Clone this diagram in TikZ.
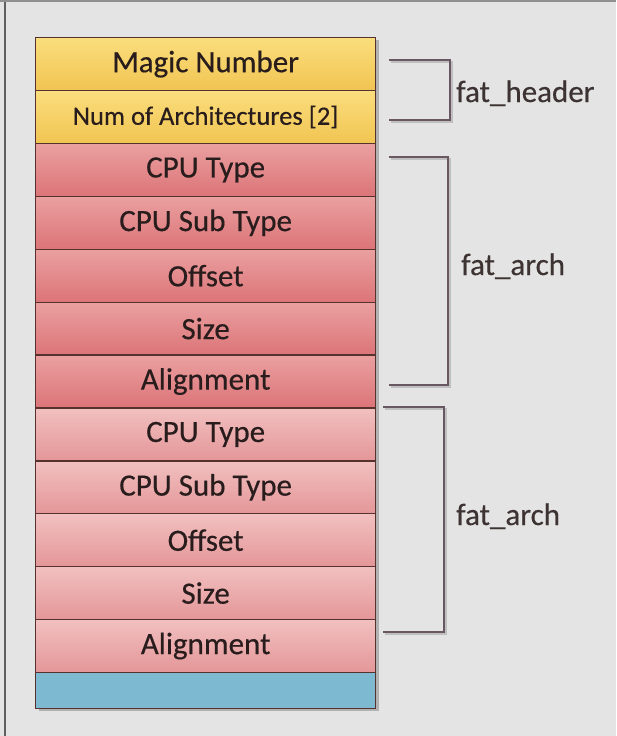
\documentclass[tikz,border=0pt]{standalone}
\usepackage{fontspec}
\setmainfont[FakeBold=0.4]{Carlito}
\definecolor{bgc}{RGB}{228,228,228}
\definecolor{framec}{RGB}{95,95,95}
\definecolor{yelT}{RGB}{250,222,125}
\definecolor{yelB}{RGB}{241,196,82}
\definecolor{redaT}{RGB}{234,160,160}
\definecolor{redaB}{RGB}{220,116,120}
\definecolor{redbT}{RGB}{242,192,192}
\definecolor{redbB}{RGB}{228,150,152}
\definecolor{bluec}{RGB}{125,186,210}
\definecolor{edgec}{RGB}{85,50,45}
\definecolor{brac}{RGB}{105,88,98}
\definecolor{txtc}{RGB}{40,28,28}
\tikzset{
  cell/.style={draw=edgec, line width=1.3pt, minimum width=340pt, minimum height=52.9pt,
    inner sep=0pt, anchor=north west, font=\fontsize{31}{34}\selectfont, text=txtc},
  yel/.style={cell, top color=yelT, bottom color=yelB},
  reda/.style={cell, top color=redaT, bottom color=redaB},
  redb/.style={cell, top color=redbT, bottom color=redbB},
  bracket/.style={draw=brac, line width=1.6pt},
  brshadow/.style={draw=black!25, line width=1.6pt},
  lbl/.style={anchor=base west, inner sep=0pt, font=\fontsize{31}{34}\selectfont, text=txtc!90}
}
\begin{document}
\begin{tikzpicture}[x=1pt,y=-1pt]
\useasboundingbox (0,0) rectangle (616,736);
\fill[bgc] (0,0) rectangle (616,736);
\draw[framec, line width=2pt] (5,0) -- (5,736);
\draw[framec!70, line width=1.5pt] (0,1) -- (616,1);
% shadow of the stack
\fill[black!30] (39,40) rectangle (379,711);
% rows
\node[yel] (magic) at (35,37) {Magic Number};
\node[yel, font=\fontsize{26.5}{30}\selectfont] (narch) at (35,89.9) {Num of Architectures [2]};
\node[reda] (cpua) at (35,142.8) {CPU Type};
\node[reda] (suba) at (35,195.7) {CPU Sub Type};
\node[reda] (offa) at (35,248.6) {Offset};
\node[reda] (sizea) at (35,301.5) {Size};
\node[reda] (alia) at (35,354.4) {Alignment};
\node[redb] (cpub) at (35,407.3) {CPU Type};
\node[redb] (subb) at (35,460.2) {CPU Sub Type};
\node[redb] (offb) at (35,513.1) {Offset};
\node[redb] (sizeb) at (35,566) {Size};
\node[redb] (alib) at (35,618.9) {Alignment};
\node[cell, fill=bluec, minimum height=36.2pt] (blue) at (35,671.8) {};
% brackets
\draw[brshadow] (391,62) -- (452,62) -- (452,122) -- (391,122);
\draw[bracket] (389,60) -- (450,60) -- (450,120) -- (389,120);
\node[lbl] (hdr) at (456,102) {fat\_header};
\draw[brshadow] (391,159) -- (450,159) -- (450,387) -- (391,387);
\draw[bracket] (389,157) -- (448,157) -- (448,385) -- (389,385);
\node[lbl] (archa) at (461,275) {fat\_arch};
\draw[brshadow] (385,409) -- (446,409) -- (446,634) -- (385,634);
\draw[bracket] (383,407) -- (444,407) -- (444,632) -- (383,632);
\node[lbl] (archb) at (456,525) {fat\_arch};
\end{tikzpicture}
\end{document}
